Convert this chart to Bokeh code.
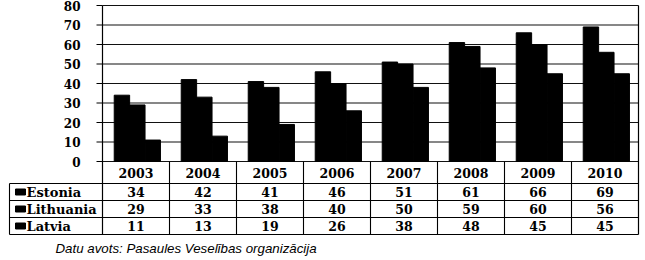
from bokeh.plotting import figure
from bokeh.models import Range1d
from bokeh.core.properties import value
from bokeh.embed import file_html
from bokeh.resources import INLINE

# ---- data ----
years = ["2003", "2004", "2005", "2006", "2007", "2008", "2009", "2010"]
series_names = ["Estonia", "Lithuania", "Latvia"]
estonia = [34, 42, 41, 46, 51, 61, 66, 69]
lithuania = [29, 33, 38, 40, 50, 59, 60, 56]
latvia = [11, 13, 19, 26, 38, 48, 45, 45]
y_ticks = [0, 10, 20, 30, 40, 50, 60, 70, 80]
caption = "Datu avots: Pasaules Veselības organizācija"

# ---- layout (pixel geometry of the frame) ----
W, H = 645, 260
X0_PX, CAT_PX = 102, 67.0      # x of the y axis, width of one category
Y0_PX, UNIT_PX = 161, 1.95     # y of value 0, pixels per unit
ROW_PX = [161, 183, 200, 217, 234]
TABLE_LEFT_PX = 9

def dx(px):
    return (px - X0_PX) / CAT_PX

def dy(px):
    return (Y0_PX - px) / UNIT_PX

p = figure(width=W, height=H, output_backend="svg", toolbar_location=None,
           x_range=Range1d(dx(0), dx(W)), y_range=Range1d(dy(H), dy(0)),
           x_axis_location=None, y_axis_location=None, min_border=0)
p.grid.visible = False
p.outline_line_color = None
p.background_fill_color = "white"
p.border_fill_color = "white"

n = len(years)
ymax = y_ticks[-1]
FONT = value("DejaVu Serif")

# gridlines
p.segment(x0=[0] * len(y_ticks), x1=[n] * len(y_ticks), y0=y_ticks, y1=y_ticks,
          line_color="#111111", line_width=1.1)
# ticks
p.segment(x0=[dx(96)] * len(y_ticks), x1=[0] * len(y_ticks), y0=y_ticks, y1=y_ticks,
          line_color="black", line_width=1.1)
# tick labels
p.text(x=[dx(80)] * len(y_ticks), y=y_ticks, text=[str(t) for t in y_ticks],
       text_font=FONT, text_font_style="bold", text_font_size="12px",
       text_align="right", text_baseline="middle", text_color="black")

# bars
bw = 0.23
centers = [i + 0.52 for i in range(n)]
for k, vals in enumerate([estonia, lithuania, latvia]):
    xs = [c + (k - 1) * bw for c in centers]
    p.vbar(x=xs, top=vals, bottom=0, width=bw, fill_color="black", line_color="black")

# frame verticals (axis + right border), extend into the table
p.segment(x0=[0, n], x1=[0, n], y0=[ymax, ymax], y1=[dy(ROW_PX[-1])] * 2,
          line_color="black", line_width=1.2)

# table verticals
p.segment(x0=list(range(1, n)), x1=list(range(1, n)),
          y0=[dy(ROW_PX[0])] * (n - 1), y1=[dy(ROW_PX[-1])] * (n - 1),
          line_color="black", line_width=1.1)
p.segment(x0=[dx(TABLE_LEFT_PX)], x1=[dx(TABLE_LEFT_PX)],
          y0=[dy(ROW_PX[1])], y1=[dy(ROW_PX[-1])], line_color="black", line_width=1.1)
# table horizontals
hy = [dy(r) for r in ROW_PX[1:]]
p.segment(x0=[dx(TABLE_LEFT_PX)] * len(hy), x1=[n] * len(hy), y0=hy, y1=hy,
          line_color="black", line_width=1.1)

# header years
hdr_y = dy((ROW_PX[0] + ROW_PX[1]) / 2)
p.text(x=[i + 0.5 for i in range(n)], y=[hdr_y] * n, text=years,
       text_font=FONT, text_font_style="bold", text_font_size="12.5px",
       text_align="center", text_baseline="middle", text_color="black")

# table rows
for r, (name, vals) in enumerate(zip(series_names, [estonia, lithuania, latvia])):
    cy = dy((ROW_PX[r + 1] + ROW_PX[r + 2]) / 2)
    p.text(x=[i + 0.5 for i in range(n)], y=[cy] * n, text=[str(v) for v in vals],
           text_font=FONT, text_font_style="bold", text_font_size="12.5px",
           text_align="center", text_baseline="middle", text_color="black")
    p.rect(x=[dx(20)], y=[cy], width=10 / CAT_PX, height=6 / UNIT_PX,
           fill_color="black", line_color="black")
    p.text(x=[dx(26)], y=[cy], text=[name],
           text_font=FONT, text_font_style="bold", text_font_size="13px",
           text_align="left", text_baseline="middle", text_color="black")

# caption
p.text(x=[dx(55)], y=[dy(248)], text=[caption],
       text_font=value("Liberation Sans"), text_font_style="italic",
       text_font_size="13.3px", text_align="left", text_baseline="middle",
       text_color="black")

open("out.html", "w").write(file_html(p, INLINE))
